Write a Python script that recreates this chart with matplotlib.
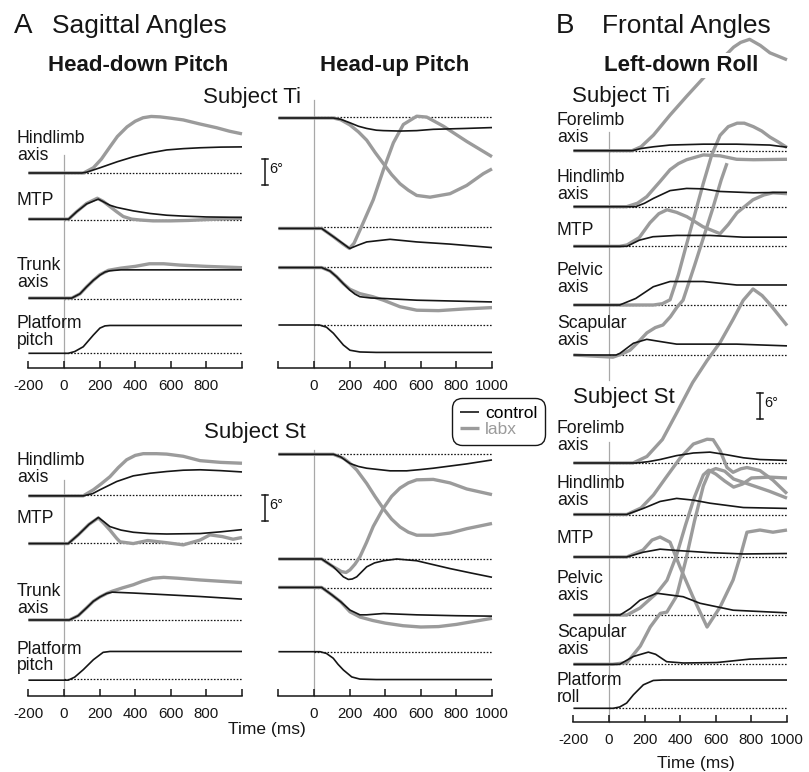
import numpy as np
import matplotlib.pyplot as plt

plt.rcParams["font.family"] = ["Liberation Sans", "DejaVu Sans"]

W, H, DPI = 809, 772, 100
PX_MS = 0.178     # pixels per ms on every time axis
PX_DEG = 4.35     # pixels per degree on every trace

CTRL = "#161616"
LABX = "#9b9b9b"
ZERO = "#a8a8a8"
TICKS = [-200, 0, 200, 400, 600, 800, 1000]

# ---------------------------------------------------------------------------
# Data: (time ms, angle change deg) for each trace
# ---------------------------------------------------------------------------

# Head-down pitch, subject Ti
HD_TI_HIND_C = [(-200, 0), (100, 0), (129, 0.2), (202, 1.2), (300, 2.6), (388, 3.7), (480, 4.6),
                (577, 5.3), (670, 5.6), (764, 5.8), (880, 5.95), (1000, 6.0)]
HD_TI_HIND_L = [(-200, 0), (110, 0), (165, 1.2), (210, 3.2), (258, 6.0), (300, 8.4), (354, 10.6),
                (400, 11.9), (444, 12.7), (490, 13.0), (540, 12.9), (600, 12.6), (670, 12.2),
                (760, 11.3), (858, 10.4), (930, 9.6), (1000, 9.0)]
HD_TI_MTP_C = [(-200, 0.2), (26, 0.2), (71, 1.9), (127, 3.7), (193, 4.8), (230, 4.0), (258, 3.4),
               (296, 2.9), (389, 2.1), (483, 1.5), (577, 1.1), (670, 0.9), (800, 0.7), (1000, 0.6)]
HD_TI_MTP_L = [(-200, 0.2), (26, 0.2), (71, 1.9), (127, 3.8), (187, 5.0), (220, 4.3), (258, 3.1),
               (296, 1.9), (333, 0.8), (380, 0.2), (427, 0), (500, -0.2), (600, -0.2), (700, -0.1),
               (800, 0.1), (1000, 0.4)]
HD_TI_TRUNK_C = [(-200, 0.2), (43, 0.2), (90, 1.2), (127, 2.8), (165, 4.3), (202, 5.5), (230, 6.2),
                 (258, 6.5), (320, 6.7), (400, 6.7), (1000, 6.7)]
HD_TI_TRUNK_L = [(-200, 0.2), (43, 0.2), (90, 1.2), (127, 2.8), (165, 4.3), (202, 5.6), (250, 6.6),
                 (320, 7.1), (400, 7.5), (480, 8.1), (560, 8.1), (650, 7.8), (800, 7.5), (1000, 7.2)]
HD_TI_PLAT = [(-200, 0), (24, 0), (60, 0.4), (108, 1.5), (165, 4.2), (202, 5.8), (230, 6.3),
              (258, 6.4), (1000, 6.4)]

# Head-up pitch, subject Ti
HU_TI_HIND_C = [(-200, -0.3), (109, -0.3), (150, -0.6), (202, -1.4), (250, -2.2), (296, -2.7),
                (350, -3.1), (390, -3.2), (483, -3.3), (577, -3.2), (670, -2.9), (850, -2.7),
                (1000, -2.5)]
HU_TI_HIND_L = [(-200, -0.3), (109, -0.3), (150, -0.7), (202, -1.9), (250, -3.5), (296, -5.4),
                (343, -8.2), (390, -10.8), (436, -13.3), (483, -15.4), (530, -16.9), (577, -18.1),
                (652, -18.5), (764, -17.7), (858, -15.8), (951, -13.1), (1000, -12.0)]
HU_TI_MTP_C = [(-200, -0.4), (43, -0.4), (109, -2.3), (160, -3.8), (193, -4.8), (202, -5.0),
               (250, -4.2), (296, -3.5), (427, -2.9), (577, -3.5), (764, -4.0), (1000, -4.8)]
HU_TI_MTP_L = [(-200, -0.4), (43, -0.4), (109, -2.3), (160, -3.9), (199, -5.0), (225, -3.8),
               (258, -0.8), (333, 6.2), (390, 13.1), (446, 19.3), (502, 23.5), (577, 25.4),
               (633, 25.2), (727, 23.1), (858, 19.6), (1000, 16.1)]
HU_TI_TRUNK_C = [(-200, -0.2), (43, -0.2), (90, -1.0), (127, -2.3), (165, -3.9), (202, -5.4),
                 (230, -6.3), (258, -6.9), (320, -7.2), (390, -7.3), (577, -7.7), (1000, -8.1)]
HU_TI_TRUNK_L = [(-200, -0.2), (43, -0.2), (90, -1.0), (127, -2.3), (165, -3.9), (202, -5.2),
                 (258, -6.2), (330, -6.9), (390, -7.7), (483, -9.2), (577, -10.0), (700, -10.1),
                 (850, -9.7), (1000, -9.4)]
HU_TI_PLAT = [(-200, 0), (30, 0), (70, -0.5), (109, -1.9), (165, -4.6), (202, -5.8), (258, -6.2),
              (350, -6.3), (1000, -6.3)]

# Head-down pitch, subject St
HD_ST_HIND_C = [(-200, -0.2), (108, -0.2), (160, 0.3), (202, 1.2), (296, 3.1), (389, 4.4),
                (483, 5.0), (577, 5.4), (670, 5.7), (764, 5.8), (880, 5.6), (1000, 5.3)]
HD_ST_HIND_L = [(-200, -0.2), (108, -0.2), (165, 1.2), (210, 2.6), (258, 4.2), (305, 6.3),
                (352, 8.1), (400, 9.1), (445, 9.5), (520, 9.5), (577, 9.4), (670, 8.9),
                (764, 7.9), (880, 7.5), (1000, 7.3)]
HD_ST_MTP_C = [(-200, -0.2), (24, -0.2), (80, 1.8), (140, 4.2), (193, 5.8), (225, 4.8), (258, 3.7),
               (320, 2.9), (389, 2.4), (480, 2.1), (577, 2.0), (764, 2.1), (880, 2.5), (1000, 3.0)]
HD_ST_MTP_L = [(-200, -0.2), (24, -0.2), (80, 1.8), (140, 4.2), (193, 5.7), (225, 4.4), (258, 2.9),
               (296, 1.0), (315, 0.2), (389, -0.2), (470, 0.5), (577, 0), (670, -0.5), (764, 0.6),
               (820, 1.8), (890, 1.4), (950, 0.8), (1000, 1.2)]
HD_ST_TRUNK_C = [(-200, 0), (30, 0), (80, 1.0), (127, 2.8), (165, 4.3), (202, 5.3), (240, 6.1),
                 (270, 6.4), (389, 6.2), (577, 5.8), (764, 5.4), (1000, 4.8)]
HD_ST_TRUNK_L = [(-200, 0), (30, 0), (80, 1.0), (127, 2.8), (165, 4.3), (202, 5.3), (240, 6.1),
                 (270, 6.6), (330, 7.4), (389, 8.1), (440, 8.9), (500, 9.6), (560, 9.8),
                 (640, 9.6), (764, 9.2), (880, 8.9), (1000, 8.6)]
HD_ST_PLAT = [(-200, -0.2), (24, -0.2), (60, 0.5), (108, 2.2), (165, 4.5), (220, 6.2), (258, 6.4),
              (1000, 6.4)]

# Head-up pitch, subject St
HU_ST_HIND_C = [(-200, 0), (109, 0), (150, -0.6), (202, -2.1), (250, -2.8), (296, -3.2),
                (427, -3.8), (521, -3.8), (600, -3.5), (670, -3.2), (858, -2.2), (1000, -1.3)]
HU_ST_HIND_L = [(-200, 0), (109, 0), (165, -0.9), (200, -2.0), (240, -3.6), (296, -6.7),
                (343, -9.7), (390, -12.5), (436, -14.9), (483, -16.7), (530, -17.9), (577, -18.6),
                (670, -18.6), (764, -18.1), (858, -17.1), (1000, -15.9)]
HU_ST_MTP_C = [(-200, 0), (43, 0), (109, -1.8), (165, -4.1), (193, -4.7), (215, -4.6), (240, -4.1),
               (296, -1.8), (340, -0.9), (390, -0.4), (465, 0), (577, -0.4), (670, -1.3),
               (764, -2.2), (880, -3.2), (1000, -4.2)]
HU_ST_MTP_L = [(-200, 0), (43, 0), (109, -1.8), (155, -2.9), (180, -3.1), (202, -2.5), (230, -1.2),
               (258, 0.5), (295, 3.8), (333, 7.5), (390, 11.7), (436, 14.4), (483, 16.3),
               (530, 17.5), (577, 18.2), (670, 18.3), (764, 17.5), (858, 16.1), (1000, 14.8)]
HU_ST_TRUNK_C = [(-200, 0.2), (43, 0.2), (100, -1.5), (150, -3.1), (202, -5.0), (258, -6.1),
                 (296, -6.1), (390, -5.8), (577, -6.1), (800, -6.3), (1000, -6.4)]
HU_ST_TRUNK_L = [(-200, 0.2), (43, 0.2), (100, -1.5), (150, -3.1), (202, -5.4), (258, -6.6),
                 (330, -7.4), (400, -8.0), (500, -8.6), (600, -8.9), (700, -8.8), (800, -8.3),
                 (900, -7.6), (1000, -6.9)]
HU_ST_PLAT = [(-200, 0), (34, 0), (70, -0.4), (108, -1.5), (135, -2.9), (165, -4.2), (212, -5.8),
              (258, -6.3), (350, -6.4), (1000, -6.4)]

# Left-down roll, subject Ti
LR_TI_FORE_C = [(-200, 0), (130, 0), (180, 0.5), (250, 0.9), (343, 1.3), (530, 1.5), (717, 1.5),
                (904, 1.3), (1000, 0.8)]
LR_TI_FORE_L = [(-200, 0), (130, 0), (180, 0.9), (250, 3.6), (343, 8.2), (436, 12.5), (530, 16.7),
                (620, 20.5), (700, 23.8), (740, 24.9), (790, 25.6), (850, 24.2), (904, 22.5),
                (1000, 20.9)]
LR_TI_HIND_C = [(-200, 0), (150, 0), (200, 0.8), (249, 1.9), (343, 3.7), (436, 4.2), (530, 4.1),
                (624, 3.5), (811, 3.2), (1000, 3.3)]
LR_TI_HIND_L = [(-200, 0), (99, 0), (160, 0.8), (212, 2.3), (287, 5.8), (343, 8.5), (390, 9.9),
                (436, 10.8), (530, 11.9), (624, 11.7), (717, 10.9), (811, 10.8), (1000, 10.9)]
LR_TI_MTP_C = [(-200, 0), (101, 0), (170, 1.4), (247, 2.2), (382, 2.5), (567, 2.5), (753, 2.1),
               (1000, 2.1)]
LR_TI_MTP_L = [(-200, 0), (60, 0), (101, 0.3), (170, 2.0), (230, 5.4), (280, 7.5), (326, 8.4),
               (380, 7.8), (438, 6.8), (528, 4.5), (624, 2.9), (670, 5.0), (719, 7.7), (809, 10.7),
               (870, 11.8), (921, 12.3), (1000, 12.1)]
LR_TI_PELV_C = [(-200, 0), (60, 0), (150, 1.5), (249, 4.2), (343, 5.4), (530, 5.4), (717, 4.6),
                (1000, 4.6)]
LR_TI_PELV_L = [(-200, 0), (250, 0), (300, 0.3), (343, 1.2), (390, 7.0), (436, 14.0), (483, 21.0),
                (530, 28.0), (577, 34.5), (624, 39.0), (670, 41.0), (720, 41.8), (760, 41.8),
                (811, 41.0), (858, 40.0), (904, 38.6), (950, 37.5), (1000, 36.2)]
LR_TI_SCAP_C = [(-200, 0), (40, 0), (62, 0.4), (137, 2.7), (212, 3.6), (287, 3.1), (380, 2.5),
                (530, 2.5), (717, 2.5), (1000, 2.1)]
LR_TI_SCAP_L = [(-200, 0), (22, -0.5), (70, 0.2), (118, 1.1), (165, 3.0), (213, 5.1), (260, 6.3),
                (303, 6.9), (345, 8.8), (382, 11.0), (416, 12.6), (480, 20.5), (530, 26.9),
                (580, 33.3), (630, 40.2), (663, 44.1)]

# Left-down roll, subject St
LR_ST_FORE_C = [(-200, 0), (150, 0), (220, 0.3), (287, 0.8), (380, 1.7), (474, 2.3), (567, 2.5),
                (661, 1.9), (755, 1.2), (848, 0.8), (1000, 0.6)]
LR_ST_FORE_L = [(-200, 0), (135, 0), (213, 1.5), (300, 5.4), (380, 11.5), (470, 18.5), (550, 23.5),
                (624, 27.7), (697, 33.0), (754, 37.4), (809, 40.0), (860, 38.5), (904, 36.5),
                (1000, 31.6)]
LR_ST_HIND_C = [(-200, 0), (99, 0), (193, 1.4), (287, 3.0), (380, 3.7), (474, 3.3), (567, 2.6),
                (755, 1.6), (1000, 1.4)]
LR_ST_HIND_L = [(-200, 0), (100, 0), (180, 1.5), (250, 4.5), (320, 8.5), (400, 13.0), (474, 16.2),
                (551, 17.3), (585, 17.2), (624, 14.7), (663, 10.8), (697, 9.7), (740, 10.5),
                (775, 10.8), (848, 10.1), (921, 7.9), (1000, 4.8)]
LR_ST_MTP_C = [(-200, 0), (99, 0), (193, 1.1), (287, 1.8), (380, 1.5), (567, 1.0), (755, 0.7),
               (1000, 0.8)]
LR_ST_MTP_L = [(-200, 0), (100, 0), (191, 1.6), (242, 3.9), (287, 4.6), (343, 3.4), (399, -2.3),
               (472, -9.2), (551, -16.1), (624, -11.5), (697, -5.3), (740, 0.5), (775, 5.7),
               (848, 6.2), (921, 5.7), (1000, 6.2)]
LR_ST_PELV_C = [(-200, 0), (62, 0), (120, 1.5), (174, 3.4), (268, 5.0), (417, 4.2), (511, 2.7),
                (698, 1.1), (1000, 0.5)]
LR_ST_PELV_L = [(-200, 0), (101, 0), (174, 1.6), (270, 5.1), (326, 8.0), (380, 13.8), (430, 20.7),
                (480, 27.1), (530, 32.2), (560, 33.3), (600, 32.4), (650, 30.8), (700, 29.4),
                (750, 30.1), (800, 31.5), (900, 31.7), (1000, 31.5)]
LR_ST_SCAP_C = [(-200, 0), (60, 0), (137, 1.8), (221, 2.8), (262, 2.3), (324, 0.6), (418, 0.3),
                (605, 0.4), (792, 1.2), (1000, 1.5)]
LR_ST_SCAP_L = [(-200, 0), (20, 0), (101, 0.4), (176, 4.2), (232, 8.6), (288, 11.7), (325, 12.0),
                (380, 15.7), (430, 23.7), (480, 32.9), (530, 41.0), (565, 44.4), (600, 45.0),
                (650, 44.4), (700, 42.6), (800, 41.2), (900, 39.8), (1000, 38.2)]
LR_ST_PLAT = [(-200, 0), (24, 0), (60, 0.3), (99, 1.2), (137, 3.1), (193, 5.4), (249, 6.4),
              (300, 6.5), (1000, 6.5)]

HD_LABELS = ["-200", "0", "200", "400", "600", "800", ""]
HU_LABELS = ["", "0", "200", "400", "600", "800", "1000"]
LR_LABELS = ["-200", "0", "200", "400", "600", "800", "1000"]


# ---------------------------------------------------------------------------
# helpers (layout in figure pixels, top-left origin)
# ---------------------------------------------------------------------------

fig = plt.figure(figsize=(W / DPI, H / DPI), dpi=DPI)


def ftext(x, y, s, **kw):
    kw.setdefault("va", "baseline")
    return fig.text(x / W, 1 - y / H, s, **kw)


def make_panel(left_px, axis_px, top_px, ticklabels):
    width = 1200 * PX_MS
    ax = fig.add_axes([left_px / W, 1 - axis_px / H, width / W, (axis_px - top_px) / H])
    ax.set_xlim(-200, 1000)
    ax.set_ylim(0, (axis_px - top_px) / PX_DEG)
    ax.patch.set_visible(False)
    for s in ("top", "right", "left"):
        ax.spines[s].set_visible(False)
    ax.spines["bottom"].set_linewidth(1.1)
    ax.spines["bottom"].set_color(CTRL)
    ax.set_yticks([])
    ax.set_xticks(TICKS)
    ax.set_xticklabels(ticklabels)
    ax.tick_params(axis="x", direction="in", length=5, width=1.1, pad=8,
                   labelsize=10.8, colors=CTRL)
    ax.axis_px = axis_px
    ax.left_px = left_px
    return ax


def level(ax, row_px):
    return (ax.axis_px - row_px) / PX_DEG


def trace(ax, row_px, pts, labx=False):
    t, v = np.array(pts, dtype=float).T
    base = level(ax, row_px)
    line, = ax.plot(t, base + v, color=LABX if labx else CTRL, lw=2.4 if labx else 1.2,
                    solid_capstyle="butt", solid_joinstyle="round", clip_on=False,
                    zorder=3 if labx else 4)
    return line


def baseline(ax, row_px):
    y = level(ax, row_px)
    ax.plot([0, 1000], [y, y], color=CTRL, lw=0.9, ls=(0, (1.3, 1.3)), zorder=2)


def zero_line(ax, top_px, bottom_px):
    ax.plot([0, 0], [level(ax, bottom_px), level(ax, top_px)], color=ZERO, lw=0.9, zorder=1,
            clip_on=False)


def scale_bar(ax, x_px, bottom_px):
    x = (x_px - ax.left_px) / PX_MS - 200
    y0 = level(ax, bottom_px)
    cap = 3 / PX_MS
    kw = dict(color=CTRL, lw=1.1, clip_on=False)
    ax.plot([x, x], [y0, y0 + 6], **kw)
    ax.plot([x - cap, x + cap], [y0, y0], **kw)
    ax.plot([x - cap, x + cap], [y0 + 6, y0 + 6], **kw)
    ax.text(x + 4.5 / PX_MS, y0 + 3.6, "6°", fontsize=10.5, va="center", ha="left", color=CTRL)


def row_label(x, y, lines):
    for i, s in enumerate(lines):
        ftext(x, y + 17 * i, s, fontsize=12.7, color=CTRL)


# ---------------------------------------------------------------------------
# Sagittal angles: head-down / head-up pitch
# ---------------------------------------------------------------------------

ax = make_panel(28.4, 368.3, 90, HD_LABELS)
zero_line(ax, 155, 368.3)
for row, c, l in [(173, HD_TI_HIND_C, HD_TI_HIND_L), (220, HD_TI_MTP_C, HD_TI_MTP_L),
                  (299, HD_TI_TRUNK_C, HD_TI_TRUNK_L)]:
    baseline(ax, row)
    trace(ax, row, l, labx=True)
    trace(ax, row, c)
baseline(ax, 353.3)
trace(ax, 353.3, HD_TI_PLAT)
scale_bar(ax, 265, 185)

ax = make_panel(278.4, 368.3, 90, HU_LABELS)
zero_line(ax, 100, 368.3)
for row, c, l in [(116.7, HU_TI_HIND_C, HU_TI_HIND_L), (226.7, HU_TI_MTP_C, HU_TI_MTP_L),
                  (266.7, HU_TI_TRUNK_C, HU_TI_TRUNK_L)]:
    baseline(ax, row)
    trace(ax, row, l, labx=True)
    trace(ax, row, c)
baseline(ax, 325)
trace(ax, 325, HU_TI_PLAT)

ax = make_panel(28.4, 696, 440, HD_LABELS)
zero_line(ax, 480, 696)
for row, c, l in [(495, HD_ST_HIND_C, HD_ST_HIND_L), (542.7, HD_ST_MTP_C, HD_ST_MTP_L),
                  (620, HD_ST_TRUNK_C, HD_ST_TRUNK_L)]:
    baseline(ax, row)
    trace(ax, row, l, labx=True)
    trace(ax, row, c)
baseline(ax, 679.3)
trace(ax, 679.3, HD_ST_PLAT)
scale_bar(ax, 265, 521)

ax = make_panel(278.4, 696, 440, HU_LABELS)
zero_line(ax, 450, 696)
legend_lines = []
for row, c, l in [(454.3, HU_ST_HIND_C, HU_ST_HIND_L), (559, HU_ST_MTP_C, HU_ST_MTP_L),
                  (588.3, HU_ST_TRUNK_C, HU_ST_TRUNK_L)]:
    baseline(ax, row)
    gl = trace(ax, row, l, labx=True)
    bl = trace(ax, row, c)
    if not legend_lines:
        legend_lines = [bl, gl]
baseline(ax, 651.7)
trace(ax, 651.7, HU_ST_PLAT)

# ---------------------------------------------------------------------------
# Frontal angles: left-down roll
# ---------------------------------------------------------------------------

ax = make_panel(573.4, 721.7, 0, LR_LABELS)
zero_line(ax, 132, 380)
zero_line(ax, 442, 721.7)
for row, c, l in [(150.7, LR_TI_FORE_C, LR_TI_FORE_L), (206.7, LR_TI_HIND_C, LR_TI_HIND_L),
                  (246.3, LR_TI_MTP_C, LR_TI_MTP_L), (305, LR_TI_PELV_C, LR_TI_PELV_L),
                  (355, LR_TI_SCAP_C, LR_TI_SCAP_L),
                  (463, LR_ST_FORE_C, LR_ST_FORE_L), (514.5, LR_ST_HIND_C, LR_ST_HIND_L),
                  (557, LR_ST_MTP_C, LR_ST_MTP_L), (615, LR_ST_PELV_C, LR_ST_PELV_L),
                  (664.3, LR_ST_SCAP_C, LR_ST_SCAP_L)]:
    baseline(ax, row)
    trace(ax, row, l, labx=True)
    trace(ax, row, c)
baseline(ax, 708.3)
trace(ax, 708.3, LR_ST_PLAT)
scale_bar(ax, 760, 419)

# ---------------------------------------------------------------------------
# text
# ---------------------------------------------------------------------------

ftext(14, 33, "A", fontsize=20, color=CTRL)
ftext(52, 33, "Sagittal Angles", fontsize=19, color=CTRL)
ftext(556, 33, "B", fontsize=20, color=CTRL)
ftext(602, 33, "Frontal Angles", fontsize=19, color=CTRL)

ftext(138, 71, "Head-down Pitch", fontsize=16, fontweight="bold", ha="center", color=CTRL)
ftext(395, 71, "Head-up Pitch", fontsize=16, fontweight="bold", ha="center", color=CTRL)
ftext(681, 71, "Left-down Roll", fontsize=16, fontweight="bold", ha="center", color=CTRL,
      zorder=10, bbox=dict(facecolor="white", edgecolor="none", pad=1.5))

ftext(203, 102.5, "Subject Ti", fontsize=16, color=CTRL)
ftext(204, 438, "Subject St", fontsize=16, color=CTRL)
ftext(572, 101.7, "Subject Ti", fontsize=16, color=CTRL)
ftext(573, 403, "Subject St", fontsize=16, color=CTRL)

row_label(17, 143, ["Hindlimb", "axis"])
row_label(17, 205, ["MTP"])
row_label(17, 270, ["Trunk", "axis"])
row_label(17, 328, ["Platform", "pitch"])
row_label(17, 465, ["Hindlimb", "axis"])
row_label(17, 522.7, ["MTP"])
row_label(17, 596, ["Trunk", "axis"])
row_label(17, 653.5, ["Platform", "pitch"])

row_label(557, 125, ["Forelimb", "axis"])
row_label(557, 181.7, ["Hindlimb", "axis"])
row_label(557, 235, ["MTP"])
row_label(557, 275, ["Pelvic", "axis"])
row_label(557, 328.3, ["Scapular", "axis"])
row_label(557, 433.3, ["Forelimb", "axis"])
row_label(557, 488.3, ["Hindlimb", "axis"])
row_label(557, 542.7, ["MTP"])
row_label(557, 583.3, ["Pelvic", "axis"])
row_label(557, 636.7, ["Scapular", "axis"])
row_label(557, 685, ["Platform", "roll"])

ftext(267, 734, "Time (ms)", fontsize=12.5, ha="center", color=CTRL)
ftext(696, 768, "Time (ms)", fontsize=12.5, ha="center", color=CTRL)

leg = fig.legend(legend_lines, ["control", "labx"], loc="upper left",
                 bbox_to_anchor=(452 / W, 1 - 398 / H), bbox_transform=fig.transFigure,
                 fontsize=12.5, handlelength=1.1, handletextpad=0.35, borderpad=0.45,
                 labelspacing=0.05, borderaxespad=0, fancybox=True, framealpha=1)
leg.get_frame().set_edgecolor(CTRL)
leg.get_frame().set_linewidth(1.0)
leg.get_frame().set_boxstyle("round", pad=0, rounding_size=0.6)
leg.get_texts()[1].set_color(LABX)

fig.savefig("out.png", dpi=DPI)
